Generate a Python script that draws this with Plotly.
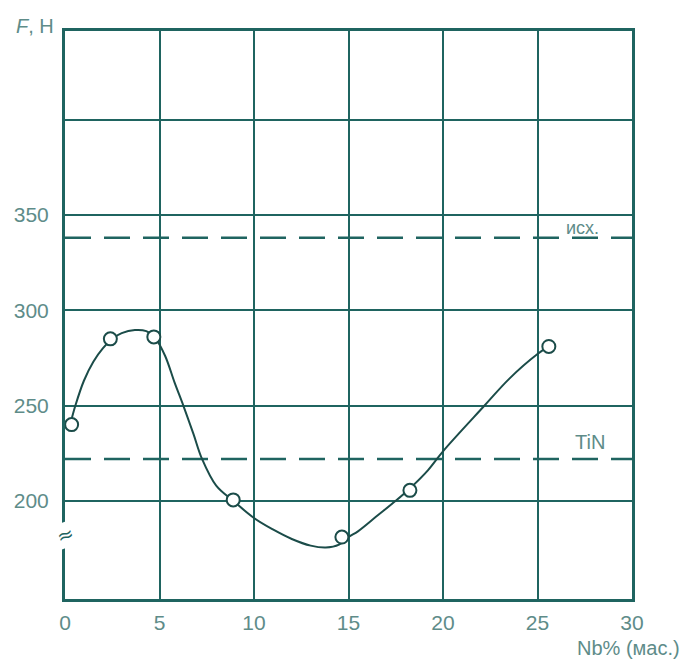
import plotly.graph_objects as go

# Measured points (circles)
nb_points = [0.35, 2.4, 4.7, 8.9, 14.65, 18.25, 25.6]
f_points = [240, 285, 286, 200.5, 181, 205.5, 281]

# Fitted smooth curve
nb_curve = [0.3, 0.55, 1.0, 1.5, 2.0, 2.5, 3.0, 3.7, 4.3, 4.8, 5.3, 5.8, 6.26, 6.8, 7.25,
            8.0, 8.9, 10.0, 11.0, 12.0, 13.0, 13.8, 14.5, 15.0, 15.5, 16.5, 17.5, 18.3,
            19.2, 20.0, 22.2, 23.5, 25.0, 25.6]
f_curve = [241, 250, 263, 273, 280, 285, 288, 289.6, 289, 285, 276, 262, 250, 235, 222,
           208, 200, 191, 185, 180, 176.5, 175.5, 177, 181, 184, 192, 200, 207,
           216, 226, 250, 264, 277, 281]

# Reference levels
ref_levels = [338, 222]
ref_labels = ["исх.", "TiN"]

x_ticks = [0, 5, 10, 15, 20, 25, 30]
y_ticks = [200, 250, 300, 350, 400]
y_ticktext = ["200", "250", "300", "350", ""]

GRID = "#1f6460"
TEXT = "#5e8c89"
CURVE = "#1b4c49"
FONT = "Liberation Sans, Arial"

fig = go.Figure()

for lvl in ref_levels:
    fig.add_trace(go.Scatter(x=[0, 30], y=[lvl, lvl], mode="lines",
                             line=dict(color=GRID, width=2.5, dash="26px,13px"),
                             hoverinfo="skip", showlegend=False))

fig.add_trace(go.Scatter(x=nb_curve, y=f_curve, mode="lines",
                         line=dict(color=CURVE, width=2, shape="spline", smoothing=1.0),
                         showlegend=False))
fig.add_trace(go.Scatter(x=nb_points, y=f_points, mode="markers",
                         marker=dict(size=13, color="white", line=dict(color=CURVE, width=2)),
                         showlegend=False))

fig.add_annotation(x=27.4, y=343, text=ref_labels[0], showarrow=False,
                   xanchor="center", yanchor="middle",
                   font=dict(size=18, color=TEXT, family=FONT))
fig.add_annotation(x=27.8, y=231, text=ref_labels[1], showarrow=False,
                   xanchor="center", yanchor="middle",
                   font=dict(size=20, color=TEXT, family=FONT))

# axis break mark
fig.add_annotation(x=0, y=182, xref="x", yref="y", text="≈", showarrow=False,
                   xanchor="center", yanchor="middle", textangle=-20,
                   bgcolor="white", borderpad=0,
                   font=dict(size=20, color=GRID, family="DejaVu Sans"))

fig.add_annotation(x=0.993, y=-0.086, xref="paper", yref="paper",
                   text="Nb% (мас.)", showarrow=False,
                   xanchor="center", yanchor="middle",
                   font=dict(size=20, color=TEXT, family=FONT))
fig.add_annotation(x=-0.053, y=1.009, xref="paper", yref="paper",
                   text="<i>F</i>, Н", showarrow=False,
                   xanchor="center", yanchor="middle",
                   font=dict(size=20, color=TEXT, family=FONT))

fig.update_layout(
    width=686, height=661,
    margin=dict(l=57, r=62, t=23, b=70),
    paper_bgcolor="white", plot_bgcolor="white",
    xaxis=dict(range=[0, 30], tickvals=x_ticks, showgrid=True, gridcolor=GRID, gridwidth=2,
               zeroline=False, showline=True, linecolor=GRID, linewidth=3, mirror=True,
               ticks="", ticklabelstandoff=3, automargin=False,
               tickfont=dict(size=21, color=TEXT, family=FONT)),
    yaxis=dict(range=[148.5, 446.5], tickvals=y_ticks, ticktext=y_ticktext,
               showgrid=True, gridcolor=GRID, gridwidth=2,
               zeroline=False, showline=True, linecolor=GRID, linewidth=3, mirror=True,
               ticks="", ticklabelstandoff=9, automargin=False,
               tickfont=dict(size=21, color=TEXT, family=FONT)),
)

fig.write_html("out.html")
